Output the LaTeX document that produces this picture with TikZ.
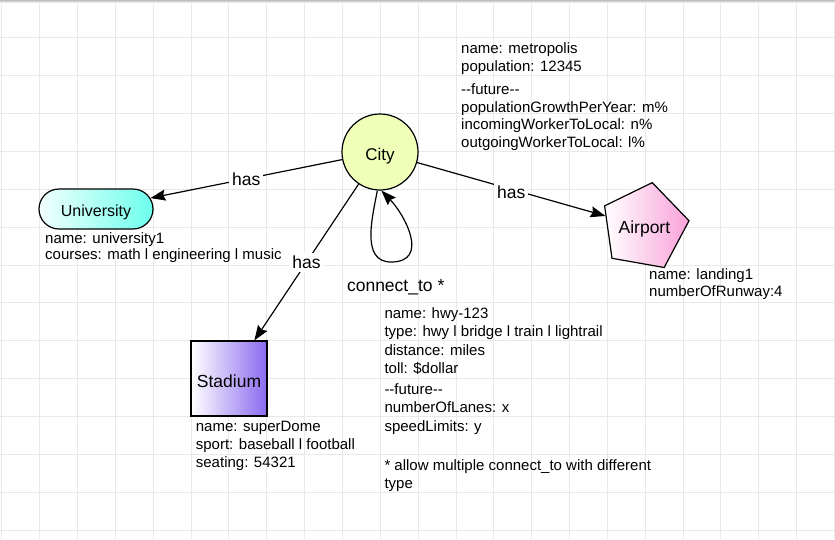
\documentclass[tikz,border=0pt]{standalone}
\usepackage{fontspec}
\setmainfont{Liberation Sans}
\usetikzlibrary{arrows.meta,shapes.geometric,shapes.misc}
\definecolor{gridc}{HTML}{E9E9E9}
\definecolor{cityE}{HTML}{F0FFB8}
\definecolor{cityC}{HTML}{D4FF28}
\definecolor{univR}{HTML}{6DFFEC}
\definecolor{univL}{HTML}{F2FFFD}
\definecolor{airR}{HTML}{F9A2D9}
\definecolor{stadR}{HTML}{8A6AF0}
\begin{document}
\begin{tikzpicture}[x=1pt,y=-1pt,
  gridline/.style={draw=gridc,line width=0.8pt},
  shapeline/.style={draw=black,line width=1.2pt,inner sep=0pt,text depth=4pt},
  arr/.style={draw=black,line width=1.2pt,-{Stealth[length=15pt,width=11pt,inset=2pt]}},
  lbl/.style={font=\fontsize{17.5}{21}\selectfont,fill=white,inner sep=3pt},
  attr/.style={font=\fontsize{15}{17.6}\selectfont,align=left,inner sep=0pt,anchor=north west}]
\useasboundingbox (0,0) rectangle (835,539);
\fill[white] (0,0) rectangle (835,539);
\foreach \i in {0,...,22} \draw[gridline] ({1.7+37.85*\i},0) -- ++(0,539);
\foreach \j in {0,...,14} \draw[gridline] (0,{37.85*\j}) -- ++(835,0);
\fill[top color=black!25,bottom color=white] (0,0) rectangle (835,3);

% nodes
\node[shapeline,circle,minimum size=76pt,text height=21pt,
      left color=cityE,middle color=cityC,right color=cityE,
      font=\fontsize{17}{20}\selectfont] (city) at (380,152) {City};
\node[shapeline,rounded rectangle,minimum width=114pt,minimum height=40pt,text height=19.4pt,
      left color=univL,right color=univR,
      font=\fontsize{16}{19}\selectfont] (univ) at (96,209) {University};
\node[shapeline,regular polygon,regular polygon sides=5,minimum size=75.2pt,text height=16.6pt,
      shape border rotate=-10,left color=white,right color=airR,
      font=\fontsize{17.5}{21}\selectfont] (air) at (644.4,227) {Airport};
\node[shapeline,rectangle,minimum width=76pt,minimum height=75pt,text height=22.5pt,
      left color=white,right color=stadR,
      font=\fontsize{17.5}{21}\selectfont] (stad) at (229,378.5) {Stadium};

% connectors
\draw[arr] (city) -- node[lbl,midway] (has1) {has} (univ);
\draw[arr] (city) -- node[lbl,midway] (has2) {has} (stad);
\draw[arr] (city) -- node[lbl,midway,yshift=-3pt] (has3) {has} (air);
\draw[arr] (city.266) .. controls (373,215) and (360,262) .. (391,262)
                      .. controls (430,262) and (405,215) .. (city.272);
\node[font=\fontsize{17.5}{21}\selectfont,inner sep=0pt,anchor=base] (conn) at (395.7,291.7) {connect\_to *};

% attribute texts
\node[attr] (cityA) at (461,41) {\strut name: metropolis\\population: 12345};
\node[attr] (cityB) at (461,82) {\strut -{}-future-{}-\\populationGrowthPerYear: m\%\\incomingWorkerToLocal: n\%\\outgoingWorkerToLocal: l\%};
\node[attr,font=\fontsize{15}{16.7}\selectfont] (univA) at (45,231.3) {\strut name: university1\\courses: math l engineering l music};
\node[attr,font=\fontsize{15}{17.7}\selectfont] (airA) at (649,266.6) {\strut name: landing1\\numberOfRunway:4};
\node[attr,font=\fontsize{15}{18}\selectfont] (stadA) at (195.7,419.1) {\strut name: superDome\\sport: baseball l football\\seating: 54321};
\node[attr,font=\fontsize{15}{18.33}\selectfont] (connA) at (384.3,305.5) {\strut name: hwy-123\\type: hwy l bridge l train l lightrail\\distance: miles\\toll: \$dollar};
\node[attr,font=\fontsize{15}{18.33}\selectfont] (connB) at (384.3,381.5) {\strut -{}-future-{}-\\numberOfLanes: x\\speedLimits: y};
\node[attr] (connC) at (384.3,458.4) {\strut * allow multiple connect\_to with different\\type};
\end{tikzpicture}
\end{document}
